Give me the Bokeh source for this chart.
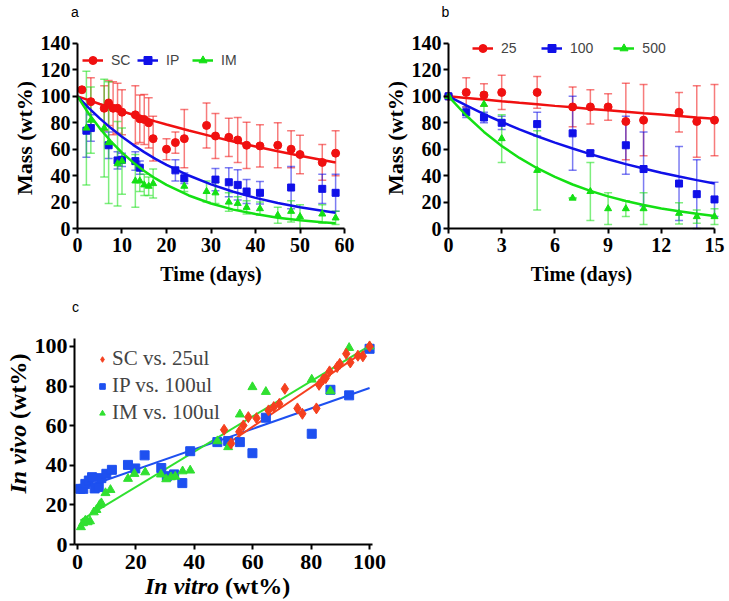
from bokeh.plotting import figure
from bokeh.models import (ColumnDataSource, Whisker, TeeHead, FixedTicker, Legend,
                          LegendItem, Label, Range1d)
from bokeh.layouts import column, row
from bokeh.embed import file_html
from bokeh.resources import INLINE
import math

SERIF = "Liberation Serif"
SANS = "Liberation Sans"

# ---------------- panel a data ----------------
sc_t = [1, 3, 6, 7, 8, 9, 10, 13, 14, 15, 16, 17, 20, 22, 24, 29, 31, 34, 36, 38, 41, 45, 48, 50, 55, 58]
sc_m = [105, 96, 91, 95, 91, 91, 88, 86, 83, 82.5, 80, 68, 60, 65, 68, 78, 70, 69, 67, 63, 62.5, 63, 60, 56, 50, 57]
sc_e = [0, 18, 17, 17, 20, 19, 17, 22, 18, 19, 19, 17, 8, 8, 22, 17, 17, 14.5, 17, 17.5, 16, 17, 14, 14.5, 13.5, 17]

ip_t = [2, 3, 7, 9, 10, 13, 14, 22, 24, 31, 34, 36, 38, 41, 48, 55, 58]
ip_m = [74, 76, 63, 51.5, 52, 51, 46, 44, 38, 37, 35, 33, 28, 27, 31, 30, 27]
ip_e = [20, 10, 10, 6.5, 5, 7, 5, 8, 4, 8.5, 11, 11.5, 9, 8.5, 16, 11, 14]

im_t = [2, 3, 6, 7, 9, 10, 13, 14, 15, 16, 17, 24, 29, 31, 34, 36, 38, 41, 45, 48, 50, 55, 58]
im_m = [76, 82, 76, 65, 49, 51, 36, 36, 33, 32, 34, 32, 28, 27, 20, 19, 16, 15, 10, 13, 9, 11, 8]
im_e = [43, 25, 37, 46, 32, 25, 20, 8, 8, 7, 11, 4, 8, 8, 7, 5, 5, 5, 6, 8, 9, 7, 5]

fit_a_t = [0, 2.5, 5, 7.5, 10, 12.5, 15, 17.5, 20, 25, 30, 35, 40, 45, 50, 55, 58]
sc_fit = [100, 97.1, 94.2, 91.4, 88.7, 86.1, 83.6, 81.1, 78.7, 74.2, 69.9, 65.8, 62.0, 58.4, 55.0, 51.8, 50.0]
ip_fit = [100, 91.3, 83.3, 76.0, 69.4, 63.3, 57.8, 52.7, 48.1, 40.1, 33.4, 27.8, 23.2, 19.3, 16.1, 13.4, 12.0]
im_fit = [100, 87.0, 75.8, 66.0, 57.4, 50.0, 43.5, 37.9, 33.0, 25.0, 18.9, 14.3, 10.9, 8.2, 6.2, 4.7, 4.0]

a_xticks = [0, 10, 20, 30, 40, 50, 60]
ab_yticks = [0, 20, 40, 60, 80, 100, 120, 140]

# ---------------- panel b data ----------------
b25_t = [0, 1, 2, 3, 5, 7, 8, 9, 10, 11, 13, 14, 15]
b25_m = [100, 103, 101, 103, 103, 92, 92, 92, 81, 82, 88, 81, 82]
b25_e = [0, 11, 8.5, 13, 12, 15, 13, 10, 29, 27, 15, 27, 27]

b100_t = [0, 1, 2, 3, 5, 7, 8, 10, 11, 13, 14, 15]
b100_m = [100, 88, 84, 80, 79, 72, 57, 63, 45, 34, 26, 22]
b100_e = [0, 4, 4, 5, 9, 28, 2, 22, 28, 28, 26, 13]

b500_t = [0, 2, 3, 5, 7, 8, 9, 10, 11, 13, 14, 15]
b500_m = [100, 94, 68, 44, 23, 28, 15, 15, 15, 11.5, 9, 9]
b500_e = [0, 9, 18, 30, 0, 22, 12, 6, 12, 8, 5, 6]

fit_b_t = [0, 1, 2, 3, 4, 5, 6, 7, 8, 9, 10, 11, 12, 13, 14, 15]
b25_fit = [100, 98.8, 97.6, 96.3, 95.1, 94.0, 92.8, 91.7, 90.5, 89.4, 88.3, 87.2, 86.2, 85.1, 84.0, 83.0]
b100_fit = [100, 93.1, 86.6, 80.6, 75.0, 69.8, 65.0, 60.5, 56.3, 52.4, 48.7, 45.4, 42.2, 39.3, 36.6, 34.0]
b500_fit = [100, 85.5, 73.1, 62.4, 53.4, 45.6, 39.0, 33.3, 28.5, 24.3, 20.8, 17.8, 15.2, 13.0, 11.1, 9.5]

b_xticks = [0, 3, 6, 9, 12, 15]

# ---------------- panel c data ----------------
c_sc_x = [50.2, 52.6, 55.4, 56.8, 58.5, 61.3, 65.4, 67.2, 69.1, 71.0, 75.3, 77.0, 81.8, 82.7,
          84.1, 85.0, 86.3, 88.9, 89.8, 92.0, 93.4, 96.0, 97.7, 100]
c_sc_y = [57.9, 51.0, 56.9, 60.1, 64.3, 63.8, 67.7, 69.4, 71.0, 78.6, 68.7, 66.0, 68.7, 80.6,
          83.3, 84.0, 87.4, 89.6, 91.2, 96.3, 91.9, 95.3, 95.0, 100]
c_ip_x = [1.0, 2.0, 2.7, 3.9, 5.0, 5.9, 7.3, 8.2, 9.9, 11.8, 17.3, 19.8, 23.0, 28.7, 30.6, 33.1,
          35.9, 38.6, 47.9, 51.6, 55.6, 59.9, 64.5, 80.2, 86.6, 93.0, 100]
c_ip_y = [28.1, 28.1, 30.6, 32.3, 34.0, 28.3, 29.0, 33.5, 35.7, 37.7, 40.2, 38.4, 45.0, 38.6, 34.5,
          35.4, 31.0, 47.1, 51.7, 52.2, 51.7, 46.1, 64.0, 55.9, 78.1, 75.3, 98.8]
c_im_x = [1.2, 1.9, 2.7, 3.5, 4.3, 5.6, 6.5, 7.6, 8.2, 9.6, 11.3, 17.3, 19.5, 23.2, 28.6, 30.4,
          32.0, 33.5, 36.0, 38.6, 47.9, 51.6, 55.6, 59.9, 64.5, 80.2, 86.6, 93.0, 100]
c_im_y = [8.8, 10.8, 12.1, 11.3, 11.8, 16.3, 17.5, 20.0, 20.9, 26.0, 27.6, 33.2, 35.7, 36.5, 35.4,
          33.0, 34.0, 34.3, 37.0, 37.4, 52.2, 49.2, 65.7, 79.5, 77.1, 83.3, 77.4, 99.3, 100]
c_sc_fit_x = [51, 100]
c_sc_fit_y = [50.5, 99.3]
c_ip_fit_x = [1, 100]
c_ip_fit_y = [28.0, 79.0]
c_im_fit_x = [1, 100]
c_im_fit_y = [12.1, 100.3]
c_ticks = [0, 20, 40, 60, 80, 100]

RED, BLUE, GREEN = "#f01010", "#1010e8", "#14e014"
C_RED, C_BLUE, C_GREEN = "#f5401f", "#1e50f0", "#30e030"


def base_figure(width, height, xr, yr):
    p = figure(width=width, height=height, x_range=Range1d(*xr), y_range=Range1d(*yr),
               output_backend="svg", toolbar_location=None, title=None,
               min_border=0, min_border_left=0, min_border_right=0,
               min_border_top=0, min_border_bottom=0)
    p.xgrid.visible = False
    p.ygrid.visible = False
    p.outline_line_color = None
    return p


def style_axes(p, xticks, yticks, xbounds, ybounds, xfix, yfix, tick_size, x_std, y_std):
    p.xaxis.ticker = FixedTicker(ticks=xticks)
    p.yaxis.ticker = FixedTicker(ticks=yticks)
    p.xaxis.bounds = xbounds
    p.yaxis.bounds = ybounds
    p.xaxis.fixed_location = xfix
    p.yaxis.fixed_location = yfix
    for ax in (p.xaxis[0], p.yaxis[0]):
        ax.axis_line_width = 2
        ax.axis_line_color = "black"
        ax.major_tick_line_width = 2
        ax.major_tick_out = 5
        ax.major_tick_in = 0
        ax.minor_tick_line_color = None
        ax.major_label_text_font = SERIF
        ax.major_label_text_font_style = "bold"
        ax.major_label_text_font_size = tick_size
        ax.major_label_text_color = "black"
    p.xaxis.major_label_standoff = x_std
    p.yaxis.major_label_standoff = y_std


def text(p, x, y, s, font, size, style="normal", align="center", angle=0.0):
    p.add_layout(Label(x=x, y=y, text=s, text_font=font, text_font_size=size,
                       text_font_style=style, text_align=align, text_baseline="middle",
                       text_color="black", angle=angle))


def series(p, t, m, e, color, marker, size, fit_t, fit_y):
    src = ColumnDataSource(dict(t=t, m=m, up=[a + b for a, b in zip(m, e)],
                                lo=[a - b for a, b in zip(m, e)]))
    w = Whisker(base="t", upper="up", lower="lo", source=src, dimension="height",
                line_color=color, line_alpha=0.55, line_width=1.5,
                upper_head=TeeHead(size=8, line_color=color, line_alpha=0.55, line_width=1.5),
                lower_head=TeeHead(size=8, line_color=color, line_alpha=0.55, line_width=1.5))
    p.add_layout(w)
    ln = p.line(fit_t, fit_y, line_color=color, line_width=2.5)
    sc = p.scatter("t", "m", source=src, marker=marker, size=size,
                   fill_color=color, line_color=color)
    return ln, sc


def make_panel(width, xr, xticks, xmid, tag, tag_x, ylab_x, data, labels, leg_loc, leg_spacing):
    p = base_figure(width, 298, xr, (-52.97, 172.54))
    style_axes(p, xticks, ab_yticks, (xticks[0], xticks[-1]), (0, 140), 0, 0, "20px", 4, 2)
    items = []
    for (t, m, e, color, marker, size, ft, fy), lab in zip(data, labels):
        ln, sc = series(p, t, m, e, color, marker, size, ft, fy)
        items.append(LegendItem(label=lab, renderers=[ln, sc]))
    leg = Legend(items=items, orientation="horizontal", location=leg_loc,
                 padding=0, margin=0, border_line_color=None, background_fill_alpha=0,
                 label_text_font=SANS, label_text_font_size="14px",
                 glyph_width=21, glyph_height=20, label_standoff=8, spacing=leg_spacing)
    p.add_layout(leg)
    text(p, tag_x, 163.5, tag, SANS, "14px")
    text(p, xmid, -34.8, "Time (days)", SERIF, "20px", "bold")
    text(p, ylab_x, 68.5, "Mass (wt%)", SERIF, "22px", "bold", angle=math.pi / 2)
    return p


pa = make_panel(366, (-17.30, 64.94), a_xticks, 30, "a", -0.56, -11.9,
                [(sc_t, sc_m, sc_e, RED, "circle", 8, fit_a_t, sc_fit),
                 (ip_t, ip_m, ip_e, BLUE, "square", 7, fit_a_t, ip_fit),
                 (im_t, im_m, im_e, GREEN, "triangle", 7, fit_a_t, im_fit)],
                ["SC", "IP", "IM"], (82, 228), 6)

pb = make_panel(359, (-4.624, 15.62), b_xticks, 7.5, "b", -0.17, -2.99,
                [(b25_t, b25_m, b25_e, RED, "circle", 8, fit_b_t, b25_fit),
                 (b100_t, b100_m, b100_e, BLUE, "square", 7, fit_b_t, b100_fit),
                 (b500_t, b500_m, b500_e, GREEN, "triangle", 7, fit_b_t, b500_fit)],
                ["25", "100", "500"], (106, 240), 20)

# ---------------- panel c ----------------
pc = base_figure(400, 303, (-26.33, 110.58), (-28.77, 124.19))
style_axes(pc, c_ticks, c_ticks, (-1, 101), (0, 104), 0, -1, "22px", 5, 2)

pc.line(c_ip_fit_x, c_ip_fit_y, line_color=C_BLUE, line_width=2)
pc.line(c_im_fit_x, c_im_fit_y, line_color=C_GREEN, line_width=2)
pc.line(c_sc_fit_x, c_sc_fit_y, line_color=C_RED, line_width=2)
r_ip = pc.scatter(c_ip_x, c_ip_y, marker="square", size=9, fill_color=C_BLUE, line_color=C_BLUE)
r_im = pc.scatter(c_im_x, c_im_y, marker="triangle", size=9, fill_color=C_GREEN, line_color=C_GREEN)
r_sc = pc.scatter(c_sc_x, c_sc_y, marker="diamond", size=11, fill_color=C_RED, line_color=C_RED)

leg_c = Legend(items=[LegendItem(label="SC vs. 25ul", renderers=[r_sc]),
                      LegendItem(label="IP vs. 100ul", renderers=[r_ip]),
                      LegendItem(label="IM vs. 100ul", renderers=[r_im])],
               orientation="vertical", location=(95, 176), padding=0, margin=0,
               border_line_color=None, background_fill_alpha=0,
               label_text_font=SERIF, label_text_font_size="21px",
               glyph_width=14, glyph_height=14, label_standoff=3, spacing=2)
pc.add_layout(leg_c)

text(pc, -0.66, 120.1, "c", SANS, "14px")
# x-axis title
text(pc, 48.46, -20.7, "In vitro", SERIF, "24px", "bold italic", "right")
text(pc, 50.51, -20.7, "(wt%)", SERIF, "24px", "bold", "left")
# y-axis title
text(pc, -20.5, 60.4, "In vivo", SERIF, "24px", "bold italic", "right", math.pi / 2)
text(pc, -20.5, 63.4, "(wt%)", SERIF, "24px", "bold", "left", math.pi / 2)

layout = column(row(pa, pb), pc)
open("out.html", "w").write(file_html(layout, INLINE))
